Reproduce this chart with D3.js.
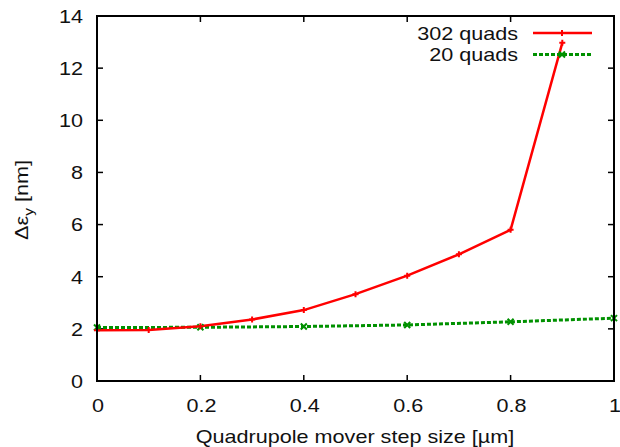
<!DOCTYPE html>
<html>
<head>
<meta charset="utf-8">
<script src="https://cdn.jsdelivr.net/npm/d3@7"></script>
<style>
  html, body { margin: 0; padding: 0; background: #fff; }
  svg { display: block; font-family: "Liberation Sans", Arial, Helvetica, sans-serif; }
</style>
</head>
<body>
<svg id="chart" width="620" height="447"></svg>
<script>
// Step sizes of the quadrupole movers [µm]
const steps302 = [0, 0.1, 0.2, 0.3, 0.4, 0.5, 0.6, 0.7, 0.8, 0.9];
const emit302 = [1.95, 1.96, 2.10, 2.36, 2.72, 3.33, 4.04, 4.86, 5.80, 12.97];
const steps20 = [0, 0.2, 0.4, 0.6, 0.8, 1.0];
const emit20 = [2.05, 2.06, 2.09, 2.15, 2.27, 2.41];

const xTicks = [0, 0.2, 0.4, 0.6, 0.8, 1];
const yTicks = [0, 2, 4, 6, 8, 10, 12, 14];

const seriesNames = ["302 quads", "20 quads"];

const svg = d3.select("#chart");
const plotLeft = 97, plotRight = 614, plotTop = 16, plotBottom = 381;

const x = d3.scaleLinear().domain([0, 1]).range([plotLeft, plotRight]);
const y = d3.scaleLinear().domain([0, 14]).range([plotBottom, plotTop]);

const fontSize = 18;
const stretch = 1.2; // wide glyph rendering of the labels

// Places a horizontally widened text label with its anchor at (px, py)
function label(g, px, py, anchor, rot) {
  return g.append("text")
    .attr("transform", `translate(${px},${py})${rot ? ` rotate(${rot})` : ""} scale(${stretch},1)`)
    .attr("text-anchor", anchor)
    .attr("font-size", fontSize)
    .attr("fill", "#111");
}

// Tick marks on all four sides, pointing inward
const tickLen = 6;
const frame = svg.append("g").attr("stroke", "#000").attr("stroke-width", 1.5);
xTicks.forEach(v => {
  frame.append("line").attr("x1", x(v)).attr("x2", x(v)).attr("y1", plotBottom).attr("y2", plotBottom - tickLen);
  frame.append("line").attr("x1", x(v)).attr("x2", x(v)).attr("y1", plotTop).attr("y2", plotTop + tickLen);
});
yTicks.forEach(v => {
  frame.append("line").attr("x1", plotLeft).attr("x2", plotLeft + tickLen).attr("y1", y(v)).attr("y2", y(v));
  frame.append("line").attr("x1", plotRight).attr("x2", plotRight - tickLen).attr("y1", y(v)).attr("y2", y(v));
});

// Tick labels
const fmt = v => (v === 0 || v === 1) ? String(v) : v.toFixed(1);
const xLab = svg.append("g");
xTicks.forEach(v => label(xLab, x(v) + 1, 412, "middle").text(fmt(v)));

const yLab = svg.append("g");
yTicks.forEach(v => label(yLab, 83, y(v) + 6.8, "end").text(v));

// Axis titles
label(svg, 355, 443, "middle").text("Quadrupole mover step size [\u00b5m]");

const yt = label(svg, 28, 200, "middle", -90);
yt.append("tspan").text("\u0394\u03b5");
yt.append("tspan").attr("dy", 5).attr("font-size", 13).text("y");
yt.append("tspan").attr("dy", -5).text(" [nm]");

// Series
const line = d3.line().x(d => x(d[0])).y(d => y(d[1]));
const data302 = steps302.map((s, i) => [s, emit302[i]]);
const data20 = steps20.map((s, i) => [s, emit20[i]]);

const plot = svg.append("g");

plot.append("path").datum(data20)
  .attr("d", line).attr("fill", "none")
  .attr("stroke", "#009100").attr("stroke-width", 3)
  .attr("stroke-dasharray", "4,2");

plot.append("path").datum(data302)
  .attr("d", line).attr("fill", "none")
  .attr("stroke", "#ff0000").attr("stroke-width", 2.5);

function plusMark(g, cx, cy, color) {
  g.append("path")
    .attr("d", `M${cx - 3},${cy}H${cx + 3}M${cx},${cy - 3}V${cy + 3}`)
    .attr("stroke", color).attr("stroke-width", 2).attr("fill", "none");
}
function crossMark(g, cx, cy, color) {
  g.append("path")
    .attr("d", `M${cx - 3},${cy - 3}L${cx + 3},${cy + 3}M${cx - 3},${cy + 3}L${cx + 3},${cy - 3}`)
    .attr("stroke", color).attr("stroke-width", 2).attr("fill", "none");
}
data20.forEach(d => crossMark(plot, x(d[0]), y(d[1]), "#009100"));
data302.forEach(d => plusMark(plot, x(d[0]), y(d[1]), "#ff0000"));

// Legend
const legend = svg.append("g");
const rows = [
  { name: seriesNames[0], color: "#ff0000", dash: null, w: 2.5, mark: plusMark, cy: 33 },
  { name: seriesNames[1], color: "#009100", dash: "4,2", w: 3, mark: crossMark, cy: 54.5 }
];
rows.forEach(r => {
  label(legend, 518, r.cy + 6.5, "end").text(r.name);
  legend.append("line")
    .attr("x1", 533).attr("x2", 592).attr("y1", r.cy).attr("y2", r.cy)
    .attr("stroke", r.color).attr("stroke-width", r.w)
    .attr("stroke-dasharray", r.dash);
  r.mark(legend, 562, r.cy, r.color);
});

// Frame
svg.append("rect")
  .attr("x", plotLeft).attr("y", plotTop)
  .attr("width", plotRight - plotLeft).attr("height", plotBottom - plotTop)
  .attr("fill", "none").attr("stroke", "#000").attr("stroke-width", 2);
</script>
</body>
</html>
